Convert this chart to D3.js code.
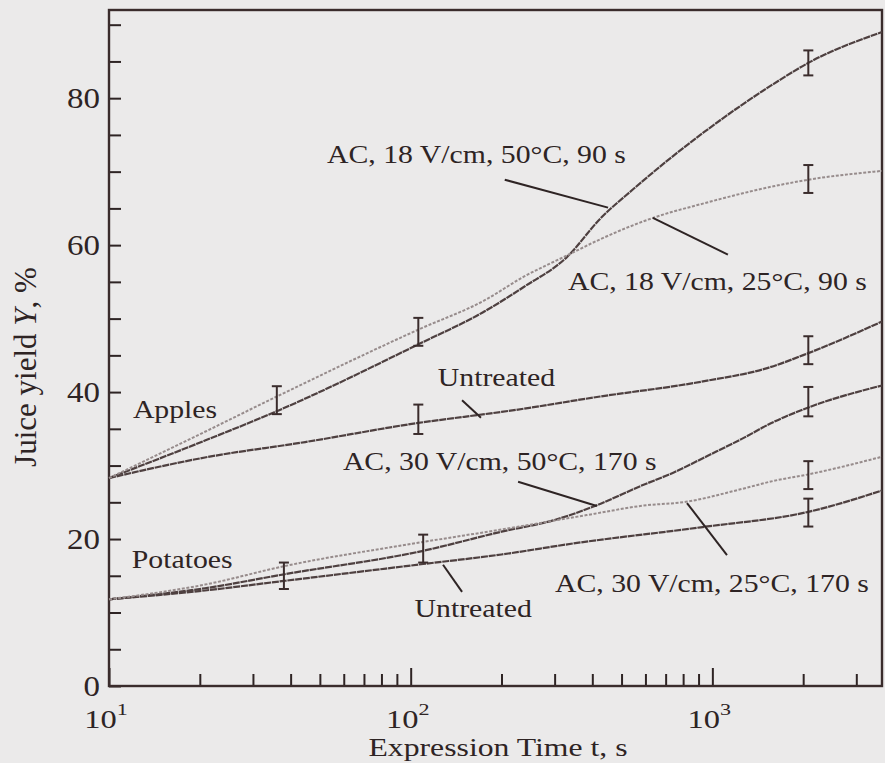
<!DOCTYPE html>
<html><head><meta charset="utf-8">
<script src="https://cdn.jsdelivr.net/npm/d3@7"></script>
<style>
body{margin:0;background:#ebeaea;}
svg{display:block;}
</style>
</head><body>
<svg id="chart" width="885" height="763"></svg>
<script>
// ---------- data ----------
const xDomain = [10, 3650];
const yDomain = [0, 92];
const yTickLabels = [0, 20, 40, 60, 80];
const yMinorTicks = d3.range(0, 91, 5);
const xMinorTicks = [20,30,40,50,60,70,80,90,200,300,400,500,600,700,800,900,2000,3000];
const xMajorTicks = [10, 100, 1000];
const xTickExp = ["1", "2", "3"];

// Apples
const appleUntreatedT = [10, 20.8, 44.7, 106, 176, 200, 425, 915, 1530, 2080, 3650];
const appleUntreatedY = [28.3, 31.1, 33.2, 35.8, 37.0, 37.3, 39.4, 41.4, 43.3, 45.3, 49.6];
const apple50T = [10, 20.8, 36, 106, 176, 237, 330, 425, 546, 940, 1590, 2080, 3650];
const apple50Y = [28.3, 33.4, 37.4, 46.5, 51.0, 54.3, 58.4, 63.6, 67.6, 75.4, 81.9, 84.8, 89.0];
const apple25T = [10, 20.8, 36, 106, 176, 237, 330, 425, 635, 940, 1590, 2080, 3650];
const apple25Y = [28.3, 34.6, 39.4, 48.5, 52.5, 55.7, 58.6, 60.8, 63.7, 65.7, 68.0, 68.9, 70.1];
// Potatoes
const potatoUntreatedT = [10, 20.8, 38, 110, 200, 346, 915, 2080, 3650];
const potatoUntreatedY = [11.8, 13.0, 14.3, 16.6, 17.9, 19.4, 21.6, 23.7, 26.6];
const potato50T = [10, 20.8, 38, 110, 200, 300, 414, 577, 748, 962, 1248, 1590, 2080, 3650];
const potato50Y = [11.8, 13.3, 15.2, 18.4, 21.0, 22.6, 24.6, 27.2, 29.1, 31.3, 33.6, 35.9, 37.9, 40.9];
const potato25T = [10, 20.8, 38, 110, 200, 414, 577, 826, 1248, 1590, 2080, 3650];
const potato25Y = [11.8, 13.8, 16.3, 19.6, 21.3, 23.5, 24.5, 25.1, 26.8, 27.9, 28.8, 31.2];

// error bars: time, centre, half-range
const barT   = [36, 106, 106, 2080, 2080, 2080, 38, 110, 2080, 2080, 2080];
const barY   = [38.9, 48.2, 36.3, 84.8, 69.0, 45.7, 15.0, 18.7, 38.7, 28.7, 23.6];
const barErr = [1.9, 1.9, 2.0, 1.7, 1.9, 1.9, 1.8, 1.9, 2.0, 1.9, 1.9];

// annotations
const labelText = ["AC, 18 V/cm, 50°C, 90 s", "AC, 18 V/cm, 25°C, 90 s", "Untreated", "Apples",
                   "Potatoes", "Untreated", "AC, 30 V/cm, 50°C, 170 s", "AC, 30 V/cm, 25°C, 170 s"];
const labelT = [52.8, 332, 123, 12.0, 11.9, 103, 59.6, 301];
const labelY = [71.2, 53.9, 40.8, 36.5, 16.1, 9.4, 29.4, 12.8];
const pointerFromT = [205, 635, 148, 227, 824, 128];
const pointerFromY = [68.9, 63.7, 38.9, 27.8, 24.9, 16.5];
const pointerToT   = [451, 1126, 171, 414, 1118, 148];
const pointerToY   = [65.1, 58.7, 36.5, 24.5, 17.8, 12.8];

// ---------- drawing ----------
const svg = d3.select("#chart");
const font = "'Liberation Serif','Times New Roman',serif";
const ink = "#2e2424";
svg.append("rect").attr("width", 885).attr("height", 763).attr("fill", "#ebeaea");

const x = d3.scaleLog().domain(xDomain).range([109, 882]);
const y = d3.scaleLinear().domain(yDomain).range([686, 10]);

function stretchedText(px, py, str, size, anchor, sx) {
  const g = svg.append("g").attr("transform", `translate(${px},${py}) scale(${sx},1)`);
  return g.append("text").attr("font-family", font).attr("font-size", size)
    .attr("fill", ink).attr("text-anchor", anchor).text(str);
}

// axes ticks (inward)
const xMinorAxis = d3.axisBottom(x).tickValues(xMinorTicks).tickSize(-12).tickFormat("");
const xMajorAxis = d3.axisBottom(x).tickValues(xMajorTicks).tickSize(-18).tickFormat("");
[xMinorAxis, xMajorAxis].forEach(ax => {
  const g = svg.append("g").attr("transform", `translate(0,${y(0)})`).call(ax);
  g.select(".domain").remove();
  g.selectAll("line").attr("stroke", ink).attr("stroke-width", 2);
});
const yAxis = d3.axisLeft(y).tickValues(yMinorTicks).tickSize(-12).tickFormat("");
const gy = svg.append("g").attr("transform", `translate(${x(xDomain[0])},0)`).call(yAxis);
gy.select(".domain").remove();
gy.selectAll("line").attr("stroke", ink).attr("stroke-width", 2);

// frame
svg.append("rect")
  .attr("x", x(xDomain[0])).attr("y", y(yDomain[1]))
  .attr("width", x(xDomain[1]) - x(xDomain[0])).attr("height", y(yDomain[0]) - y(yDomain[1]))
  .attr("fill", "none").attr("stroke", "#3a2c2c").attr("stroke-width", 2.4);

// y tick labels
yTickLabels.forEach(v => {
  stretchedText(x(xDomain[0]) - 9, y(v) + 10, String(v), 30, "end", 1.1);
});
// x tick labels
xMajorTicks.forEach((t, i) => {
  const tx = stretchedText(x(t) - 3, 728, "10", 25, "middle", 1.3);
  tx.append("tspan").attr("font-size", 17).attr("dy", -13).text(xTickExp[i]);
});

// axis titles
stretchedText(498, 756, "Expression Time t, s", 26, "middle", 1.22);
const yl = svg.append("g").attr("transform", "translate(36,367) rotate(-90)")
  .append("text").attr("font-family", font).attr("font-size", 31).attr("fill", ink)
  .attr("text-anchor", "middle");
yl.append("tspan").text("Juice yield ");
yl.append("tspan").attr("font-style", "italic").text("Y");
yl.append("tspan").text(", %");

// curves
const line = d3.line().x(d => x(d[0])).y(d => y(d[1])).curve(d3.curveMonotoneX);
const series = [
  {t: appleUntreatedT, v: appleUntreatedY, light: false},
  {t: apple50T, v: apple50Y, light: false},
  {t: apple25T, v: apple25Y, light: true},
  {t: potatoUntreatedT, v: potatoUntreatedY, light: false},
  {t: potato50T, v: potato50Y, light: false},
  {t: potato25T, v: potato25Y, light: true}
];
series.forEach(s => {
  const pts = s.t.map((t, i) => [t, s.v[i]]);
  svg.append("path").datum(pts).attr("d", line).attr("fill", "none")
    .attr("stroke", s.light ? "#978c8c" : "#4e4040")
    .attr("stroke-width", s.light ? 2 : 2.2)
    .attr("stroke-dasharray", s.light ? "3 1.6" : "7 0.8");
});

// error bars
const eb = svg.append("g").attr("stroke", "#3a2c2c").attr("stroke-width", 2);
barT.forEach((t, i) => {
  const cx = x(t), y1 = y(barY[i] - barErr[i]), y2 = y(barY[i] + barErr[i]);
  eb.append("line").attr("x1", cx).attr("x2", cx).attr("y1", y1).attr("y2", y2);
  eb.append("line").attr("x1", cx - 5).attr("x2", cx + 5).attr("y1", y1).attr("y2", y1);
  eb.append("line").attr("x1", cx - 5).attr("x2", cx + 5).attr("y1", y2).attr("y2", y2);
});

// pointers
pointerFromT.forEach((t, i) => {
  svg.append("line").attr("x1", x(t)).attr("y1", y(pointerFromY[i]))
    .attr("x2", x(pointerToT[i])).attr("y2", y(pointerToY[i]))
    .attr("stroke", "#2e2424").attr("stroke-width", 2);
});

// labels
labelText.forEach((s, i) => {
  stretchedText(x(labelT[i]), y(labelY[i]), s, 25, "start", 1.19);
});
</script>
</body></html>
